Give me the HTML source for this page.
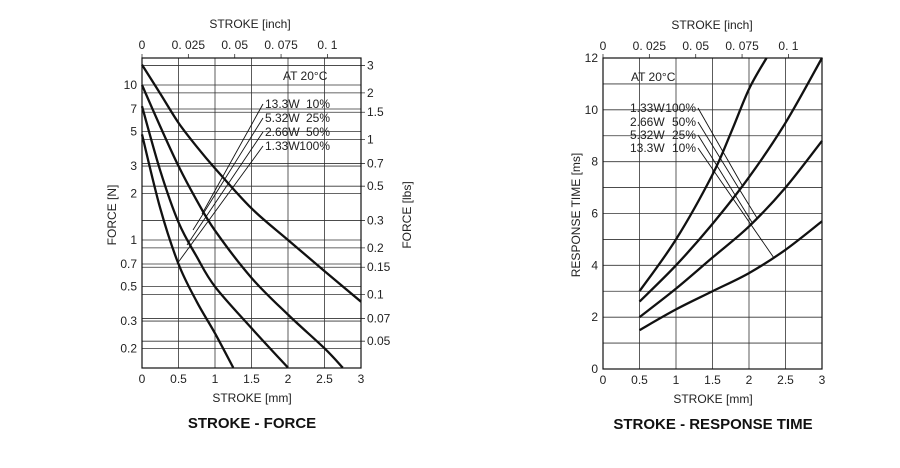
<!DOCTYPE html>
<html><head><meta charset="utf-8"><style>
body{margin:0;background:#fff}
svg{display:block;font-family:"Liberation Sans",sans-serif}
.t{font-size:12px;fill:#222}
.g{stroke:#333;stroke-width:0.8}
.c{fill:none;stroke:#111;stroke-width:2.3}
</style></head><body>
<svg width="900" height="468" viewBox="0 0 900 468">
<g id="L"></g>
<g id="R"></g>
</svg>
<script>
const forceStroke=[[0,0.25,0.5,0.75,1,1.5,2,2.5,3],[0,0.25,0.5,0.75,1,1.5,2,2.5,2.75],[0,0.25,0.5,0.75,1,1.5,2],[0,0.25,0.5,0.75,1,1.25]];
const forceValues=[[13.5,8.8,5.7,4.0,2.9,1.6,1.0,0.63,0.4],[10,5.4,3.0,1.8,1.15,0.57,0.33,0.2,0.15],[7.3,2.8,1.3,0.78,0.5,0.27,0.15],[4.8,1.6,0.7,0.4,0.25,0.15]];
const forceTicksN=[10,7,5,3,2,1,0.7,0.5,0.3,0.2];
const forceTicksLbs=[3,2,1.5,1,0.7,0.5,0.3,0.2,0.15,0.1,0.07,0.05];
const strokeTicks=[0,0.5,1,1.5,2,2.5,3];
const inchTicks=[0,0.025,0.05,0.075,0.1];
const inchLabels=["0","0. 025","0. 05","0. 075","0. 1"];
const respStroke=[0.5,1,1.5,1.75,2,2.24];
const respStroke2=[0.5,1,1.5,2,2.5,3];
const respValues=[[3.0,5.0,7.5,9.1,10.8,12],[2.6,4.0,5.6,7.4,9.5,12],[2.0,3.1,4.3,5.5,7.0,8.8],[1.5,2.3,3.0,3.7,4.6,5.7]];
const respTicks=[0,2,4,6,8,10,12];
const legendLabels=[["13.3W","10%"],["5.32W","25%"],["2.66W","50%"],["1.33W","100%"]];

const NS="http://www.w3.org/2000/svg";
function mk(p,tag,a,txt){const e=document.createElementNS(NS,tag);for(const k in a)e.setAttribute(k,a[k]);if(txt!==undefined)e.textContent=txt;p.appendChild(e);return e;}
function smooth(pts){let d="M"+pts[0][0]+","+pts[0][1];for(let i=0;i<pts.length-1;i++){const p0=pts[i-1]||pts[i],p1=pts[i],p2=pts[i+1],p3=pts[i+2]||p2;d+=" C"+(p1[0]+(p2[0]-p0[0])/6)+","+(p1[1]+(p2[1]-p0[1])/6)+" "+(p2[0]-(p3[0]-p1[0])/6)+","+(p2[1]-(p3[1]-p1[1])/6)+" "+p2[0]+","+p2[1];}return d;}

// LEFT
const L=document.getElementById('L');
const lx0=142,lx1=361,ly0=58,ly1=368;
const lX=v=>lx0+v/3*(lx1-lx0);
const lY=v=>240-Math.log10(v)*155;
forceTicksN.forEach(v=>{let e=mk(L,'line',{x1:lx0,x2:lx1,y1:lY(v),y2:lY(v),class:'g'});
 let t=mk(L,'text',{x:lx0-5,y:lY(v)+4,'text-anchor':'end',class:'t'},String(v));});
forceTicksLbs.forEach(v=>{const y=lY(v*4.448);let e=mk(L,'line',{x1:lx0,x2:lx1+4,y1:y,y2:y,class:'g'});
 let t=mk(L,'text',{x:lx1+6,y:y+4,class:'t'},String(v));});
strokeTicks.forEach(v=>{let e=mk(L,'line',{x1:lX(v),x2:lX(v),y1:ly0,y2:ly1,class:'g'});
 let t=mk(L,'text',{x:lX(v),y:383,'text-anchor':'middle',class:'t'},String(v));});
inchTicks.forEach((v,i)=>{const x=lX(v*25.4);let e=mk(L,'line',{x1:x,x2:x,y1:ly0-4,y2:ly0,class:'g'});
 let t=mk(L,'text',{x:x,y:49,'text-anchor':'middle',class:'t'},inchLabels[i]);});
mk(L,'rect',{x:lx0,y:ly0,width:lx1-lx0,height:ly1-ly0,fill:'none',stroke:'#111','stroke-width':1.2});
forceValues.forEach((s,i)=>{const pts=s.map((v,j)=>[lX(forceStroke[i][j]),lY(v)]);let p=mk(L,'path',{d:smooth(pts),class:'c'});});
const lLead=[[263,104,202,214],[263,118,193,230],[263,132,187,245],[263,146,177,264]];
legendLabels.forEach((l,i)=>{const a=lLead[i];mk(L,'line',{x1:a[0],y1:a[1],x2:a[2],y2:a[3],stroke:'#111','stroke-width':0.9});
 let t=mk(L,'text',{x:265,y:a[1]+4,class:'t'},l[0]);
 let u=mk(L,'text',{x:330,y:a[1]+4,class:'t','text-anchor':'end'},l[1]);});
mk(L,'text',{x:283,y:80,class:'t','font-size':'13'},'AT 20°C');
mk(L,'text',{x:250,y:28,class:'t','text-anchor':'middle','font-size':'13'},'STROKE [inch]');
mk(L,'text',{x:252,y:402,class:'t','text-anchor':'middle','font-size':'13'},'STROKE [mm]');
mk(L,'text',{x:252,y:428,'text-anchor':'middle','font-size':'15','font-weight':'bold',fill:'#111'},'STROKE - FORCE');
mk(L,'text',{x:0,y:0,class:'t','text-anchor':'middle','font-size':'13',transform:'translate(116,215) rotate(-90)'},'FORCE [N]');
mk(L,'text',{x:0,y:0,class:'t','text-anchor':'middle','font-size':'13',transform:'translate(411,215) rotate(-90)'},'FORCE [lbs]');

// RIGHT
const R=document.getElementById('R');
const rx0=603,rx1=822,ry0=58,ry1=369;
const rX=v=>rx0+v/3*(rx1-rx0);
const rY=v=>ry1-v/12*(ry1-ry0);
for(let v=1;v<12;v++){let e=mk(R,'line',{x1:rx0,x2:rx1,y1:rY(v),y2:rY(v),class:'g'});}
respTicks.forEach(v=>{let t=mk(R,'text',{x:rx0-5,y:rY(v)+4,'text-anchor':'end',class:'t'},String(v));});
strokeTicks.forEach(v=>{if(v>0&&v<3){let e=mk(R,'line',{x1:rX(v),x2:rX(v),y1:ry0,y2:ry1,class:'g'});}
 let t=mk(R,'text',{x:rX(v),y:384,'text-anchor':'middle',class:'t'},String(v));});
inchTicks.forEach((v,i)=>{const x=rX(v*25.4);let e=mk(R,'line',{x1:x,x2:x,y1:ry0-4,y2:ry0,class:'g'});
 let t=mk(R,'text',{x:x,y:50,'text-anchor':'middle',class:'t'},inchLabels[i]);});
mk(R,'rect',{x:rx0,y:ry0,width:rx1-rx0,height:ry1-ry0,fill:'none',stroke:'#111','stroke-width':1.2});
respValues.forEach((s,i)=>{const xs=i==0?respStroke:respStroke2;const pts=s.map((v,j)=>[rX(xs[j]),rY(v)]);let p=mk(R,'path',{d:smooth(pts),class:'c'});});
const rLabels=[legendLabels[3],legendLabels[2],legendLabels[1],legendLabels[0]];
const rLead=[[698,108,742,185],[698,122,757,218],[698,135,753,224],[698,148,774,258]];
rLabels.forEach((l,i)=>{const a=rLead[i];mk(R,'line',{x1:a[0],y1:a[1],x2:a[2],y2:a[3],stroke:'#111','stroke-width':0.9});
 let t=mk(R,'text',{x:630,y:a[1]+4,class:'t'},l[0]);
 let u=mk(R,'text',{x:696,y:a[1]+4,class:'t','text-anchor':'end'},l[1]);});
mk(R,'text',{x:631,y:81,class:'t','font-size':'13'},'AT 20°C');
mk(R,'text',{x:712,y:29,class:'t','text-anchor':'middle','font-size':'13'},'STROKE [inch]');
mk(R,'text',{x:713,y:403,class:'t','text-anchor':'middle','font-size':'13'},'STROKE [mm]');
mk(R,'text',{x:713,y:429,'text-anchor':'middle','font-size':'15','font-weight':'bold',fill:'#111'},'STROKE - RESPONSE TIME');
mk(R,'text',{x:0,y:0,class:'t','text-anchor':'middle','font-size':'13',transform:'translate(580,215) rotate(-90)'},'RESPONSE TIME [ms]');
</script>
</body></html>
